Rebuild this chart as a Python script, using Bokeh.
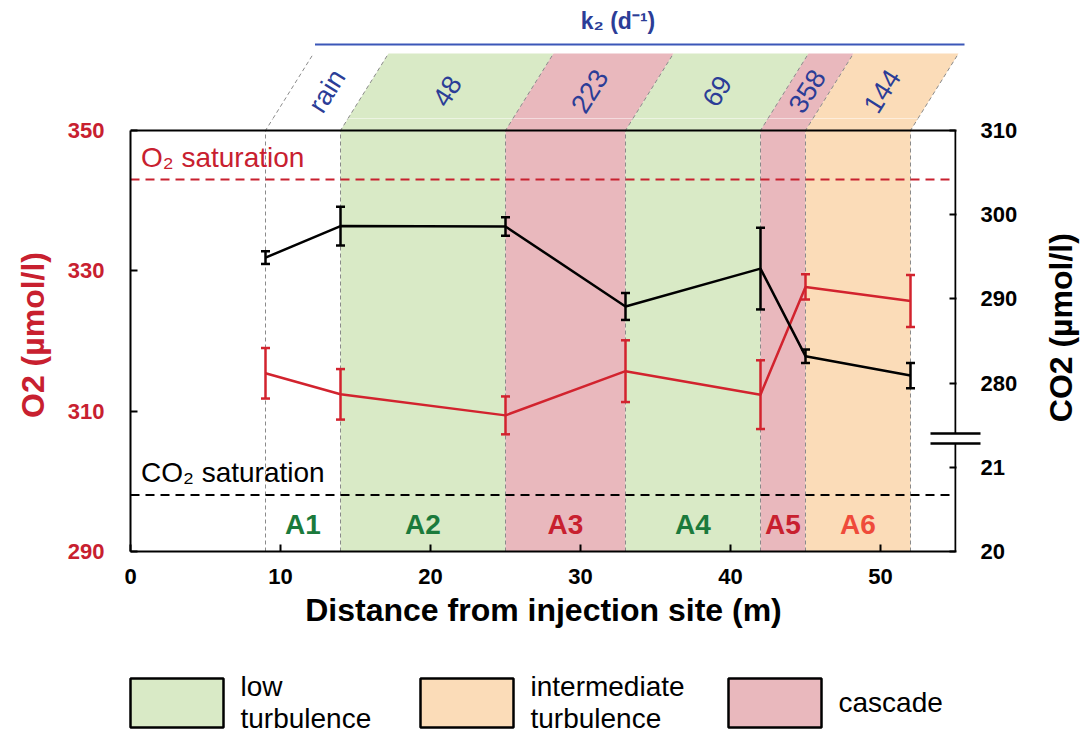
import math
from bokeh.plotting import figure
from bokeh.layouts import column, row
from bokeh.models import Range1d, LinearAxis, FixedTicker
from bokeh.core.properties import value
from bokeh.embed import file_html
from bokeh.resources import INLINE

# ---------------- data ----------------
distance = [9, 14, 25, 33, 42, 45, 52]
o2 = [315.4, 312.4, 309.4, 315.7, 312.35, 327.7, 325.7]
o2_err = [3.6, 3.6, 2.7, 4.4, 4.9, 1.8, 3.7]
co2 = [294.9, 298.65, 298.6, 289.1, 293.6, 283.2, 280.9]
co2_err = [0.75, 2.3, 1.1, 1.6, 4.85, 0.8, 1.5]

section_edges = [9, 14, 25, 33, 42, 45, 52]
section_names = ["A1", "A2", "A3", "A4", "A5", "A6"]
section_types = ["none", "low", "cascade", "low", "cascade", "intermediate"]
k2_values = ["rain", "48", "223", "69", "358", "144"]

o2_saturation = 343.0
co2_saturation = 20.67

x_ticks = [0, 10, 20, 30, 40, 50]
o2_ticks = [290, 310, 330, 350]
co2_ticks_upper = [280, 290, 300, 310]
co2_ticks_lower = [20, 21]

legend_types = ["low", "intermediate", "cascade"]
legend_texts = ["low\nturbulence", "intermediate\nturbulence", "cascade"]

# ---------------- style ----------------
FONT = "Liberation Sans"
RED = "#c8202f"
LINE_RED = "#d2232e"
GREEN_T = "#1b7a3c"
ORANGE_T = "#ef4b3a"
BLUE_T = "#2b3d97"
BLUE_L = "#3b57b8"
GRAY = "#8a8a8a"
FILL = {"low": "#d9eac6", "intermediate": "#fbdcb8", "cascade": "#e9b8bd"}
LABEL_COLOR = {"none": GREEN_T, "low": GREEN_T, "cascade": RED, "intermediate": ORANGE_T}

# ---------------- layout ----------------
W = 1080
W_SIDE = 36
W_MAIN = W - W_SIDE
LB = 130
X0, X1 = 0, 55
PX_X = 15.0
X_END = X1 + 1 / PX_X
FRAME_W = int(round((X_END - X0) * PX_X))
RB = W_MAIN - LB - FRAME_W
Y0, Y1 = 290, 350
PLOT_H = 421
PX_Y = PLOT_H / (Y1 - Y0)
PAD = 12
TOP_H = 118
BOTTOM_B = 90
MAIN_H = PLOT_H + PAD + BOTTOM_B
LEG_H = 94
SKEW = 3.2
PARA_H = 77

# CO2 axis: upper part has 310 at the top, 10 CO2 units = 12 O2 units;
# lower (broken) part has 20 at the bottom, 1 unit = 10 upper units
CO2_TOP = 310
O2_PER_CO2 = 1.2
CO2_START = CO2_TOP - (Y1 - Y0) / O2_PER_CO2
LOWER_BASE, LOWER_SCALE = 20, 10
BREAK_HI, BREAK_LO = 274.0, 272.8


def lower_pos(v):
    return CO2_START + (v - LOWER_BASE) * LOWER_SCALE


y_top = Y1 + PAD / PX_Y
h_main = PARA_H / PX_Y

# ---------------- main figure ----------------
p = figure(width=W_MAIN, height=MAIN_H,
           x_range=Range1d(X0, X_END), y_range=Range1d(Y0, y_top),
           output_backend="svg", toolbar_location=None, frame_align=False,
           min_border_left=LB, min_border_right=RB, min_border_top=0,
           min_border_bottom=BOTTOM_B, outline_line_color=None,
           background_fill_color="white", border_fill_color="white")
p.extra_y_ranges = {"co2": Range1d(CO2_START, CO2_TOP + (y_top - Y1) / O2_PER_CO2)}
p.xgrid.visible = False
p.ygrid.visible = False

lefts = section_edges[:-1]
rights = section_edges[1:]
mids = [(a + b) / 2 for a, b in zip(lefts, rights)]

poly_x, poly_y, poly_c = [], [], []
for a, b, t in zip(lefts, rights, section_types):
    if t in FILL:
        poly_x.append([a, b, b, b + SKEW, a + SKEW, a])
        poly_y.append([Y0, Y0, Y1, Y1 + h_main, Y1 + h_main, Y1])
        poly_c.append(FILL[t])
p.patches(poly_x, poly_y, fill_color=poly_c, line_color=None)

p.multi_line([[e, e, e + SKEW] for e in section_edges],
             [[Y0, Y1, Y1 + h_main] for _ in section_edges],
             line_color=GRAY, line_dash="4 3", line_width=1)

# saturation lines
p.line([X0, X1], [o2_saturation] * 2, line_color=RED, line_dash="9 6", line_width=2)
p.line([X0, X1], [lower_pos(co2_saturation)] * 2, y_range_name="co2",
       line_color="black", line_dash="9 6", line_width=2)

p.text(x=[0.7], y=[346.1], text=["O\u2082 saturation"], text_color=RED,
       text_font=value(FONT), text_font_size="28px", text_align="left", text_baseline="middle")
p.text(x=[0.7], y=[301.3], text=["CO\u2082 saturation"], text_color="black",
       text_font=value(FONT), text_font_size="28px", text_align="left", text_baseline="middle")

p.text(x=mids, y=[293.8] * len(mids), text=section_names,
       text_color=[LABEL_COLOR[t] for t in section_types],
       text_font=value(FONT), text_font_size="28px", text_font_style="bold",
       text_align="center", text_baseline="middle")

# box: top border and right border (with a gap at the axis break)
p.line([X0, X1], [Y1, Y1], line_color="black", line_width=2)
p.segment(x0=[X1, X1], x1=[X1, X1], y0=[CO2_TOP, BREAK_LO], y1=[BREAK_HI, CO2_START],
          y_range_name="co2", line_color="black", line_width=2)

# O2 series
o2_lo = [v - e for v, e in zip(o2, o2_err)]
o2_hi = [v + e for v, e in zip(o2, o2_err)]
p.line(distance, o2, line_color=LINE_RED, line_width=2.5)
p.segment(x0=distance, y0=o2_lo, x1=distance, y1=o2_hi, line_color=LINE_RED, line_width=2.5)
p.scatter(distance + distance, o2_lo + o2_hi, marker="dash", size=9,
          line_color=LINE_RED, line_width=2.5)

# CO2 series
co2_lo = [v - e for v, e in zip(co2, co2_err)]
co2_hi = [v + e for v, e in zip(co2, co2_err)]
p.line(distance, co2, line_color="black", line_width=2.5, y_range_name="co2")
p.segment(x0=distance, y0=co2_lo, x1=distance, y1=co2_hi, line_color="black",
          line_width=2.5, y_range_name="co2")
p.scatter(distance + distance, co2_lo + co2_hi, marker="dash", size=9,
          line_color="black", line_width=2.5, y_range_name="co2")

# axes
xa = p.xaxis[0]
xa.ticker = FixedTicker(ticks=x_ticks)
xa.bounds = (X0, X1)
xa.axis_label = "Distance from injection site (m)"
ya = p.yaxis[0]
ya.ticker = FixedTicker(ticks=o2_ticks)
ya.bounds = (Y0, Y1)
ya.axis_label = "O2 (\u00b5mol/l)"

ra = LinearAxis(y_range_name="co2",
                ticker=FixedTicker(ticks=[lower_pos(v) for v in co2_ticks_lower] + co2_ticks_upper,
                                   minor_ticks=[BREAK_HI, BREAK_LO]),
                bounds=(CO2_START, CO2_TOP))
ra.major_label_overrides = {int(round(lower_pos(v))): str(v) for v in co2_ticks_lower}
p.add_layout(ra, "right")

for ax in (xa, ya, ra):
    ax.major_tick_in = 7
    ax.major_tick_out = 0
    ax.minor_tick_in = 0
    ax.minor_tick_out = 0
    ax.axis_line_width = 2
    ax.axis_line_color = "black"
    ax.major_tick_line_width = 2
    ax.major_tick_line_color = "black"
    ax.major_label_text_font = FONT
    ax.major_label_text_font_style = "bold"
    ax.major_label_text_font_size = "22px"
    ax.major_label_text_color = "black"
    ax.axis_label_text_font = FONT
    ax.axis_label_text_font_style = "bold"
    ax.axis_label_text_font_size = "32px"
    ax.axis_label_text_color = "black"
xa.major_label_standoff = 17
xa.axis_label_standoff = 5
ya.major_label_standoff = 26
ya.axis_label_standoff = 14
ya.major_label_text_color = RED
ya.axis_label_text_color = RED
ra.axis_line_color = None
ra.major_label_standoff = 0
# break marks of the broken CO2 axis
ra.minor_tick_in = 26
ra.minor_tick_out = 24
ra.minor_tick_line_width = 2.5
ra.minor_tick_line_color = "black"

# right-hand axis title in a narrow strip beside the plot
side = figure(width=W_SIDE, height=MAIN_H, x_range=Range1d(0, W_SIDE),
              y_range=Range1d(Y0 - BOTTOM_B / PX_Y, y_top), output_backend="svg",
              toolbar_location=None, x_axis_location=None, y_axis_location=None,
              frame_align=False, min_border_left=0, min_border_right=0,
              min_border_top=0, min_border_bottom=0, outline_line_color=None,
              background_fill_color="white", border_fill_color="white")
side.grid.visible = False
side.text(x=[W_SIDE / 2 - 2], y=[321.9], text=["CO2 (\u00b5mol/l)"], angle=90, angle_units="deg",
          text_color="black", text_font=value(FONT), text_font_size="32px",
          text_font_style="bold", text_align="center", text_baseline="middle")

# ---------------- top strip (k2) ----------------
top = figure(width=W, height=TOP_H, x_range=Range1d(X0, (W - LB) / PX_X),
             y_range=Range1d(PAD, PAD + TOP_H), output_backend="svg", toolbar_location=None,
             x_axis_location=None, y_axis_location=None, frame_align=False,
             min_border_left=LB, min_border_right=0, min_border_top=0, min_border_bottom=0,
             outline_line_color=None, background_fill_color="white", border_fill_color="white")
top.grid.visible = False
tx, ty, tc = [], [], []
for a, b, t in zip(lefts, rights, section_types):
    if t in FILL:
        tx.append([a, b, b + SKEW, a + SKEW])
        ty.append([0, 0, PARA_H, PARA_H])
        tc.append(FILL[t])
top.patches(tx, ty, fill_color=tc, line_color=None)
top.multi_line([[e, e + SKEW] for e in section_edges], [[0, PARA_H] for _ in section_edges],
               line_color=GRAY, line_dash="4 3", line_width=1)
top.text(x=[m + SKEW / 2 for m in mids], y=[PARA_H / 2 + 1] * len(mids), text=k2_values,
         angle=58, angle_units="deg", text_color=BLUE_T, text_font=value(FONT),
         text_font_size="27px", text_align="center", text_baseline="middle")
top.line([12.3, 55.6], [86, 86], line_color=BLUE_L, line_width=2)
top.text(x=[32.5], y=[110], text=["k\u2082 (d\u207b\u00b9)"], text_color=BLUE_T,
         text_font=value(FONT), text_font_size="23px", text_font_style="bold",
         text_align="center", text_baseline="middle")

# ---------------- legend strip ----------------
leg = figure(width=W, height=LEG_H, x_range=Range1d(0, W), y_range=Range1d(0, LEG_H),
             output_backend="svg", toolbar_location=None, frame_align=False,
             x_axis_location=None, y_axis_location=None,
             min_border_left=0, min_border_right=0, min_border_top=0, min_border_bottom=0,
             outline_line_color=None, background_fill_color="white", border_fill_color="white")
leg.grid.visible = False
box_left = [130, 420, 728]
box_w = 93
leg.quad(left=box_left, right=[b + box_w for b in box_left], bottom=[8] * 3, top=[57] * 3,
         fill_color=[FILL[t] for t in legend_types], line_color="black", line_width=2.5)
leg.text(x=[b + box_w + 17 for b in box_left], y=[33] * 3, text=legend_texts,
         text_color="black", text_font=value(FONT), text_font_size="28px",
         text_align="left", text_baseline="middle", text_line_height=1.05)

layout = column(top, row(p, side, spacing=0), leg, spacing=0)
open("out.html", "w").write(file_html(layout, INLINE))
